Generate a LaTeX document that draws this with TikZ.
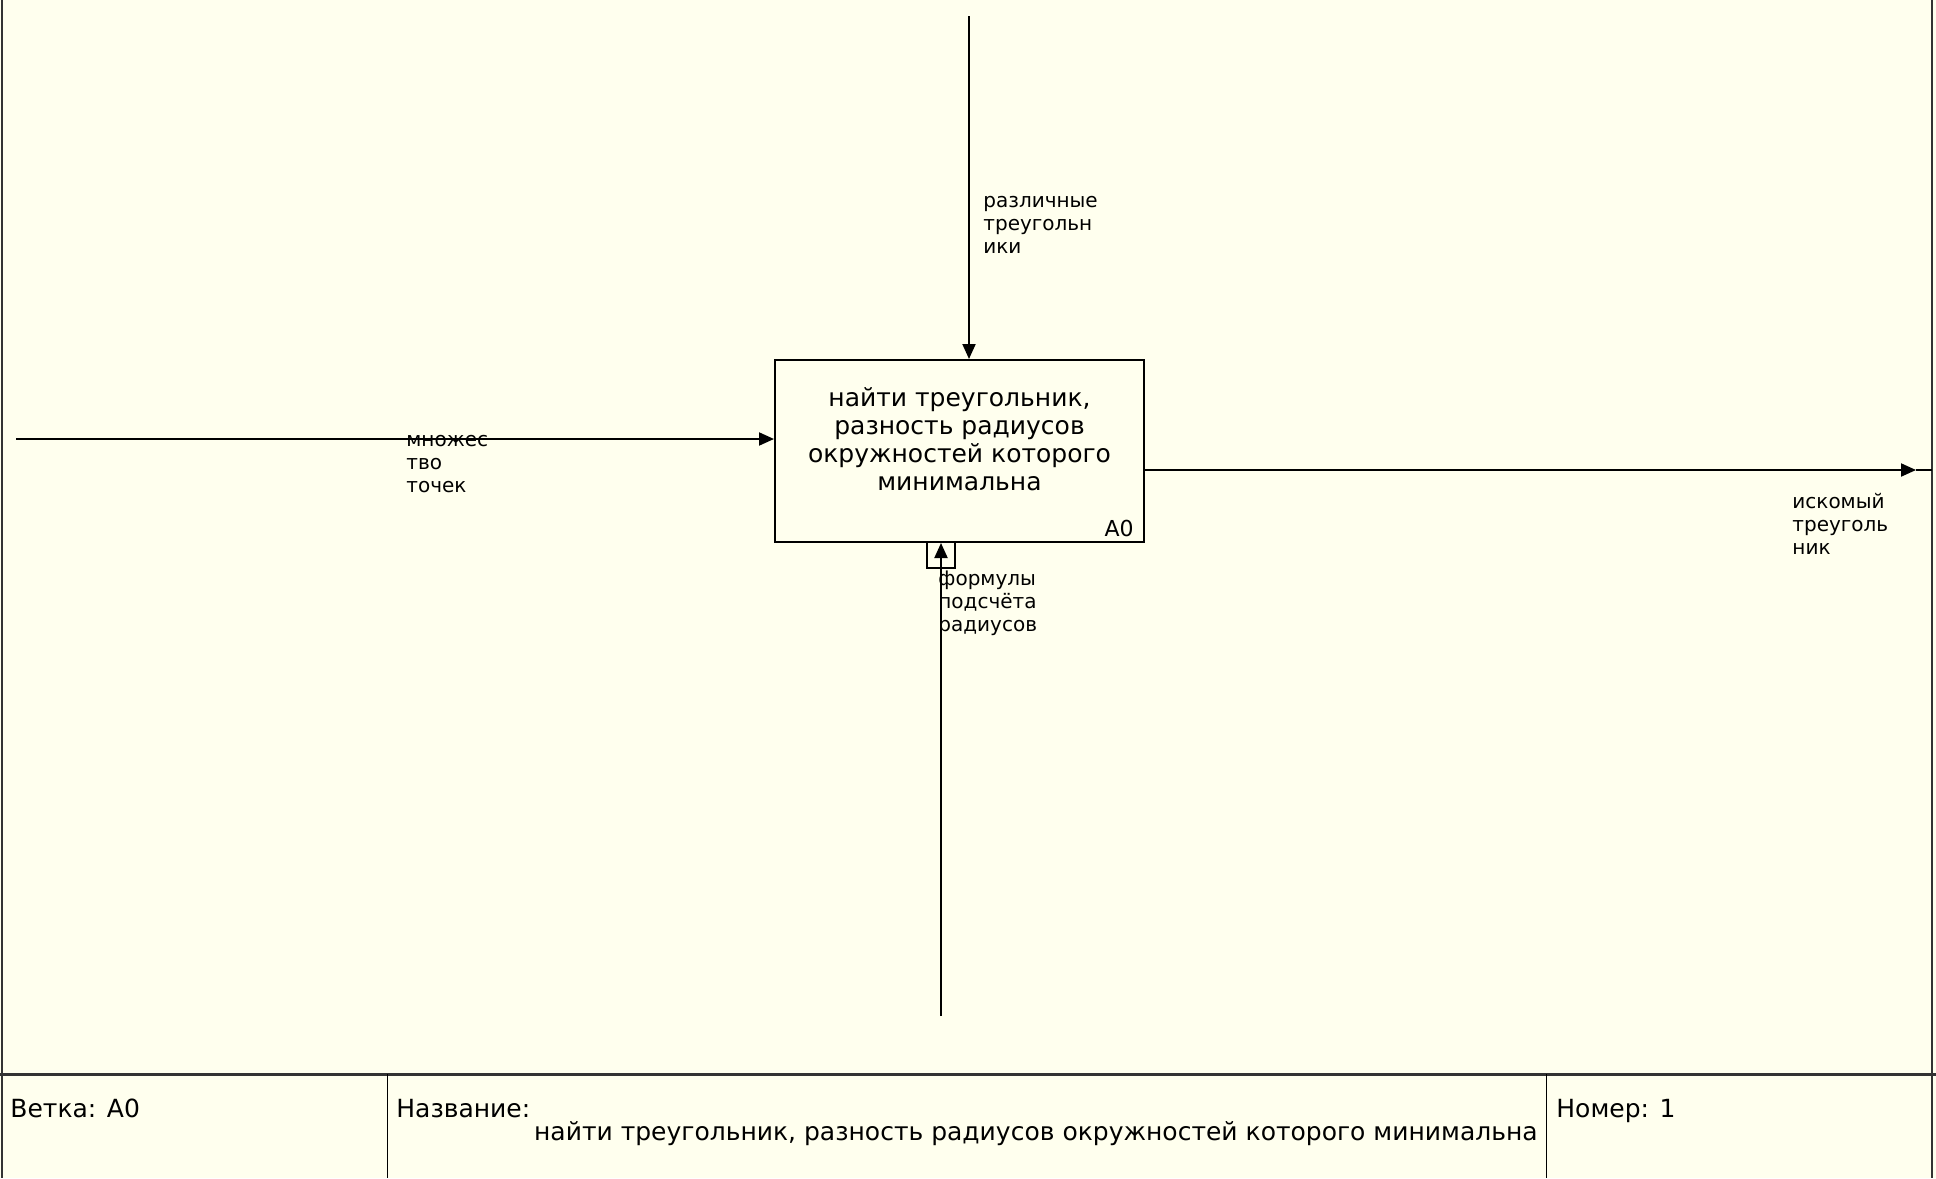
\documentclass[tikz,border=0pt]{standalone}
\usepackage{fontspec}
\setmainfont{DejaVu Sans}
\usetikzlibrary{arrows.meta,positioning}
\definecolor{idefbg}{RGB}{255,255,238}
\tikzset{
	flow/.style={line width=1pt,-{Triangle[length=7.5pt,width=6.5pt]}},
	arrowlabel/.style={anchor=north west,inner sep=0pt,align=left,font=\fontsize{10}{11.4}\selectfont},
	frametext/.style={anchor=base west,inner sep=0pt,font=\fontsize{12.5}{14}\selectfont}
}
\begin{document}
\begin{tikzpicture}[x=0.5pt,y=-0.5pt]
			\fill[idefbg] (0,0) rectangle (1936,1178);
			\useasboundingbox (0,0) rectangle (1936,1178);
			
			% frame
			\draw[line width=1pt,black!80] (1.5,0) -- (1.5,1178);
			\draw[line width=1pt,black!80] (1932,0) -- (1932,1178);
			\draw[line width=1.5pt,black!80] (0,1074) -- (1936,1074);
			\draw[line width=0.5pt] (387,1074) -- (387,1178) (1546,1074) -- (1546,1178);
			
			\node[frametext] (branch) at (10,1117) {Ветка: A0};
			\node[frametext] (titlelbl) at (396,1117) {Название:};
			\node[frametext,anchor=base east] (title) at (1538,1140) {найти треугольник, разность радиусов окружностей которого минимальна};
			\node[frametext] (number) at (1556,1117) {Номер: 1};
			
			% activity box
			\node[draw,line width=1pt,minimum width=184.5pt,minimum height=91pt,inner sep=0pt] (A0) at (959.5,451) {};
			\node[align=center,inner sep=0pt,font=\fontsize{12.5}{14}\selectfont] (A0text) at ([yshift=6pt]A0.center) {найти треугольник,\\разность радиусов\\окружностей которого\\минимальна};
			\node[anchor=base east,inner sep=0pt,font=\fontsize{11}{13}\selectfont] (A0num) at ([xshift=-5.5pt,yshift=3.5pt]A0.south east) {A0};
			
			% arrows
			\coordinate (ctrl) at (969,16);
			\coordinate (inp) at (16,439);
			\coordinate (outtip) at (1916,470);
			\coordinate (outend) at (1932,470);
			\coordinate (mech) at (941,1016);
			
			\draw[flow] (ctrl) -- (ctrl |- A0.north);
			\draw[flow] (inp) -- (inp -| A0.west);
			\draw[flow] (outtip -| A0.east) -- (outtip);
			\draw[line width=1pt] (outtip) -- (outend);
			\draw[flow] (mech) -- (mech |- A0.south);
			\draw[line width=1pt] (927,542) -- (927,568) -- (955,568) -- (955,542);
			
			\node[arrowlabel] (lctrl) at (983,196) {различные\\треугольн\\ики};
			\node[arrowlabel] (linp) at (406,435) {множес\\тво\\точек};
			\node[arrowlabel] (lout) at (1792,493) {искомый\\треуголь\\ник};
			\node[arrowlabel] (lmech) at (938,571) {формулы\\подсчёта\\радиусов};
		\end{tikzpicture}
\end{document}
